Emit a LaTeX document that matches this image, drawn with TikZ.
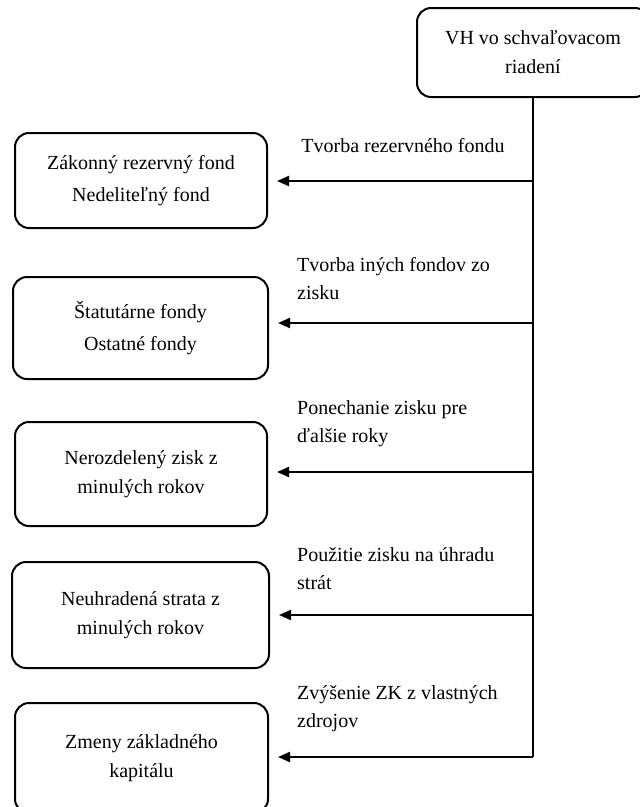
\documentclass[tikz,border=0pt]{standalone}
\usepackage{fontspec}
\setmainfont{Liberation Serif}
\usetikzlibrary{arrows.meta}
\begin{document}
\begin{tikzpicture}[x=1pt,y=-1pt,
  box/.style={draw,line width=2pt,rounded corners=14pt,align=center,font=\fontsize{20}{29}\selectfont,inner sep=0pt},
  wide/.style={font=\fontsize{20}{32}\selectfont},
  lbl/.style={align=left,font=\fontsize{20}{28}\selectfont,inner sep=0pt},
  conn/.style={line width=2pt},
  arr/.style={conn,-{Triangle[length=12pt,width=10pt]},shorten >=9pt}]
\useasboundingbox (0,0) rectangle (640,807);
\clip (0,0) rectangle (640,807);
% top box
\node[box,minimum width=232pt,minimum height=89pt] (top) at (533,52.5) {VH vo schvaľovacom\\riadení};
% left boxes
\node[box,wide,minimum width=252pt,minimum height=95pt] (b1) at (141,180.5) {Zákonný rezervný fond\\Nedeliteľný fond};
\node[box,wide,minimum width=255pt,minimum height=102pt] (b2) at (140.5,328) {Štatutárne fondy\\Ostatné fondy};
\node[box,minimum width=252pt,minimum height=104pt] (b3) at (141,474) {Nerozdelený zisk z\\minulých rokov};
\node[box,minimum width=257pt,minimum height=106pt] (b4) at (140.5,615) {Neuhradená strata z\\minulých rokov};
\node[box,minimum width=253pt,minimum height=110pt] (b5) at (141.5,758) {Zmeny základného\\kapitálu};
% junctions on the trunk
\coordinate (j1) at (533,181);
\coordinate (j2) at (533,323);
\coordinate (j3) at (533,472);
\coordinate (j4) at (533,615);
\coordinate (j5) at (533,757);
% trunk
\draw[conn] (top.south) -- (j5);
% arrows
\draw[arr] (j1) -- (j1 -| b1.east);
\draw[arr] (j2) -- (j2 -| b2.east);
\draw[arr] (j3) -- (j3 -| b3.east);
\draw[arr] (j4) -- (j4 -| b4.east);
\draw[arr] (j5) -- (j5 -| b5.east);
% labels
\node[lbl] (l1) at (403,146) {Tvorba rezervného fondu};
\node[lbl,anchor=west] (l2) at (297,279) {Tvorba iných fondov zo\\zisku};
\node[lbl,anchor=west] (l3) at (297,424) {Ponechanie zisku pre\\ďalšie roky};
\node[lbl,anchor=west] (l4) at (297,569) {Použitie zisku na úhradu\\strát};
\node[lbl,anchor=west] (l5) at (297,709) {Zvýšenie ZK z vlastných\\zdrojov};
\end{tikzpicture}
\end{document}
